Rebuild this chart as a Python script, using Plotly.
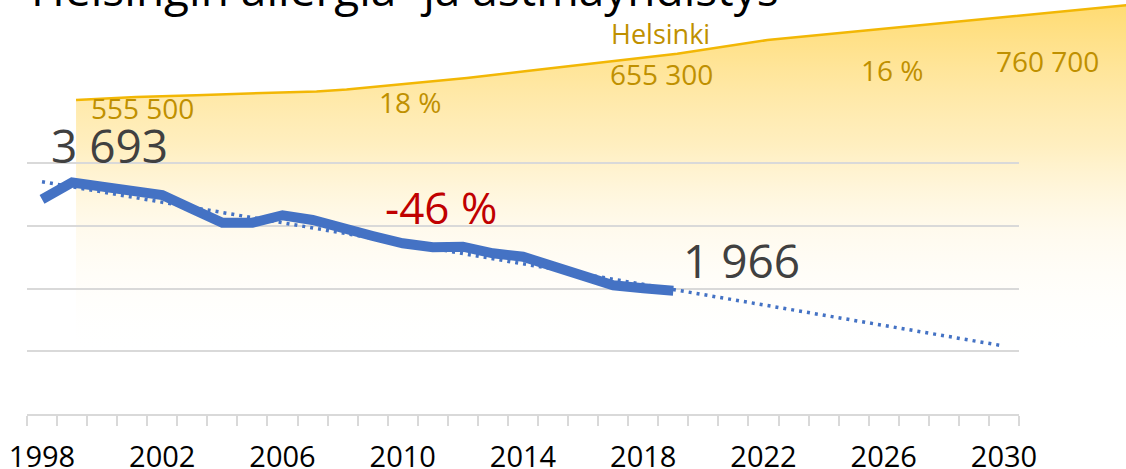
import plotly.graph_objects as go

# Allergy/asthma figures (blue line) 1998-2019
years = list(range(1998, 2020))
cases = [3424, 3693, 3627, 3560, 3493, 3270, 3051, 3051, 3170, 3095, 2985,
         2839, 2722, 2659, 2668, 2563, 2509, 2349, 2201, 2052, 2005, 1966]

# dotted trend line end points
trend_years = [1998, 2030]
trend_values = [3705, 1085]

# Helsinki population (thousands)
pop_years = [1999, 2001, 2003, 2005, 2007, 2008, 2010, 2012, 2014, 2016,
             2019, 2022, 2025, 2028, 2031, 2034]
pop_values = [555.5, 562, 566, 569.5, 574, 578, 590, 603, 618, 633,
              655.3, 685, 704, 724, 743, 760.7]

tick_years = [1998, 2002, 2006, 2010, 2014, 2018, 2022, 2026, 2030]
grid_values = [1000, 2000, 3000, 4000]

W, H = 1126, 469
FONT = "Open Sans"
GOLD = "#bf9000"


def px(x):
    return x / W


def py(y):
    return 1 - y / H


fig = go.Figure()

# population area, on the full-page axes (drawn underneath)
fig.add_trace(go.Scatter(
    x=pop_years, y=pop_values, mode="lines",
    line=dict(color="#f2b705", width=2.5),
    fill="tozeroy",
    fillgradient=dict(
        type="vertical",
        colorscale=[[0, "rgba(255,255,255,0)"],
                    [0.35, "rgba(255,240,200,0.3)"],
                    [0.6, "rgba(255,228,150,0.6)"],
                    [1, "rgba(255,213,90,0.85)"]]),
    xaxis="x", yaxis="y", hoverinfo="skip", showlegend=False,
))

# trend + actual line on the chart axes
fig.add_trace(go.Scatter(
    x=trend_years, y=trend_values, mode="lines",
    line=dict(color="#4472c4", width=3.5, dash="3px,5px"),
    xaxis="x2", yaxis="y2", showlegend=False,
))
fig.add_trace(go.Scatter(
    x=years, y=cases, mode="lines",
    line=dict(color="#4472c4", width=10),
    xaxis="x2", yaxis="y2", showlegend=False,
))

# --- text labels ---
notes = [
    ("Helsingin allergia- ja astmayhdistys", 29, -12, 46, "black", "left"),
    ("3 693", 109, 145, 46, "#404040", "center"),
    ("1 966", 741, 260, 46, "#404040", "center"),
    ("-46 %", 441, 207, 44, "#c00000", "center"),
    ("555 500", 142, 108, 28, GOLD, "center"),
    ("18 %", 410, 102, 28, GOLD, "center"),
    ("Helsinki", 660, 33, 27, GOLD, "center"),
    ("655 300", 661, 74, 28, GOLD, "center"),
    ("16 %", 892, 70, 28, GOLD, "center"),
    ("760 700", 1047, 61, 28, GOLD, "center"),
]
for text, x, y, size, color, anchor in notes:
    fig.add_annotation(
        text=text, x=px(x), y=py(y), xref="paper", yref="paper",
        xanchor=anchor, yanchor="middle", showarrow=False,
        font=dict(family=FONT, size=size, color=color),
    )

fig.update_layout(
    template="none",
    width=W, height=H,
    margin=dict(l=0, r=0, t=0, b=0, autoexpand=False),
    paper_bgcolor="white", plot_bgcolor="rgba(0,0,0,0)",
    font=dict(family=FONT),
    # area axes: span the whole picture
    xaxis=dict(domain=[0, 1], range=[1996.47, 2033.93], visible=False,
               automargin=False),
    yaxis=dict(domain=[0, 1], range=[-241.5, 771.5], visible=False,
               automargin=False),
    # chart axes
    xaxis2=dict(
        domain=[px(27), px(1019)], range=[1997.5, 2030.5], anchor="y2",
        tickvals=tick_years, ticks="", showgrid=False, zeroline=False,
        showline=True, linecolor="#d9d9d9", linewidth=2, automargin=False,
        tickfont=dict(family=FONT, size=29, color="black"),
        ticklabelstandoff=16,
        minor=dict(tick0=1997.5, dtick=1, ticks="outside", ticklen=10,
                   tickcolor="#d9d9d9", tickwidth=1.5, showgrid=False),
    ),
    yaxis2=dict(
        domain=[py(414), 1], range=[0, 414 / 62.7 * 1000], anchor="x2",
        tickvals=grid_values, showticklabels=False, ticks="",
        showgrid=True, gridcolor="#d9d9d9", gridwidth=1.5, zeroline=False,
        automargin=False,
    ),
)

# page body has a default 8px margin; drop it so the figure sits at 0,0
fig.write_html("out.html", config={"displayModeBar": False},
               post_script="document.body.style.margin = '0';")
